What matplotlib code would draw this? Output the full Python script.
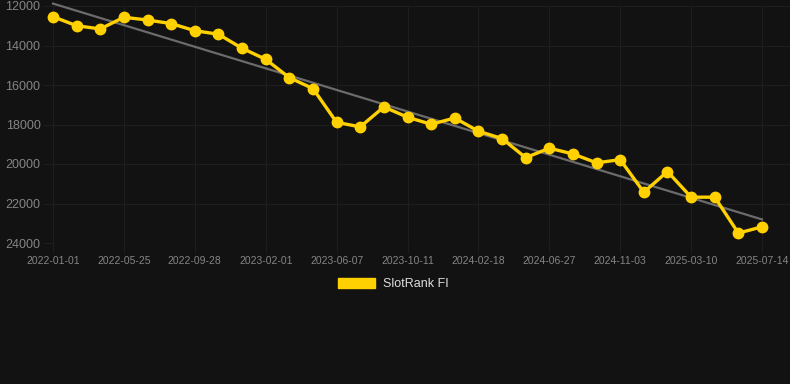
import numpy as np
import matplotlib.pyplot as plt
from matplotlib.patches import Patch

# SlotRank FI rank (lower is better), one point per period
ranks = [12540, 13000, 13160, 12570, 12710, 12890, 13250, 13430, 14140, 14700,
         15630, 16180, 17890, 18120, 17110, 17630, 17990, 17670, 18340, 18710,
         19680, 19200, 19490, 19940, 19780, 21430, 20380, 21680, 21680, 23500,
         23180]
tick_labels = ['2022-01-01', '2022-05-25', '2022-09-28', '2023-02-01', '2023-06-07',
               '2023-10-11', '2024-02-18', '2024-06-27', '2024-11-03', '2025-03-10',
               '2025-07-14']
label_step = 3

plt.rcParams['font.family'] = ['Liberation Sans', 'DejaVu Sans']

bg = '#121212'
gold = '#FFD100'
grid_c = '#1e1e1e'
text_c = '#858585'

x = np.arange(len(ranks))
y = np.array(ranks)

fig = plt.figure(figsize=(7.9, 3.84), dpi=100, facecolor=bg)
ax = fig.add_axes([53 / 790, 1 - 243 / 384, (790 - 53) / 790, (243 - 6) / 384])
ax.set_facecolor(bg)

# linear trend
k, b = np.polyfit(x, y, 1)
ax.plot(x, k * x + b, color='#6b6b6b', lw=1.6, zorder=2, clip_on=False)

ax.plot(x, y, color=gold, lw=2.4, marker='o', ms=7.5, zorder=3, clip_on=False)

ax.set_xlim(0, (790 - 53) / ((762 - 53) / 30))
ax.set_ylim(24000, 12000)
ax.set_yticks(np.arange(12000, 24001, 2000))
ax.set_xticks(x[::label_step])
ax.set_xticklabels(tick_labels)

ax.grid(True, color=grid_c, lw=0.8)
for s in ax.spines.values():
    s.set_visible(False)
ax.tick_params(axis='y', colors=grid_c, labelcolor=text_c, labelsize=9, length=7, pad=2)
ax.tick_params(axis='x', colors=grid_c, labelcolor=text_c, labelsize=7.5, length=7, pad=2)

handle = Patch(facecolor=gold, edgecolor=gold)
fig.legend([handle], ['SlotRank FI'], loc='center', bbox_to_anchor=(393 / 790, 1 - 284 / 384),
           frameon=False, labelcolor='#dddddd', fontsize=9,
           handlelength=3.0, handleheight=0.9, handletextpad=0.6)

fig.savefig('out.png', dpi=100, facecolor=bg)
